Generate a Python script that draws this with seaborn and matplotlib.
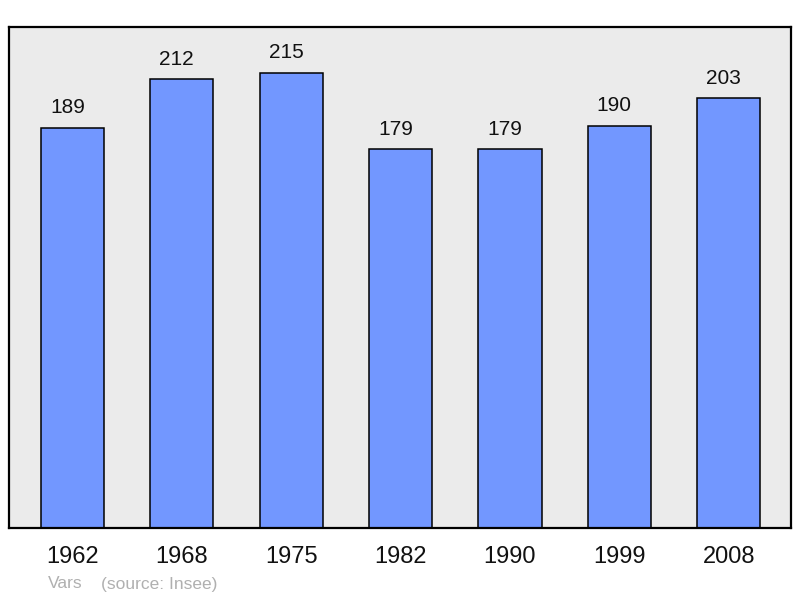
import matplotlib
matplotlib.use("Agg")
import matplotlib.pyplot as plt
import seaborn as sns
import pandas as pd

years = ["1962", "1968", "1975", "1982", "1990", "1999", "2008"]
population = [189, 212, 215, 179, 179, 190, 203]
commune = "Vars"
source = "(source: Insee)"

sns.set_theme(style="white")
plt.rcParams['font.family'] = ['Liberation Sans', 'DejaVu Sans']

df = pd.DataFrame({"year": years, "pop": population})

fig = plt.figure(figsize=(8, 5.98), dpi=100)
ax = fig.add_axes([0.01125, 0.117, 0.9775, 0.8378])
ax.set_facecolor("#ebebeb")

sns.barplot(data=df, x="year", y="pop", ax=ax, color="#7297ff", saturation=1,
            width=0.578, edgecolor="black", linewidth=1.1)

for i, v in enumerate(population):
    ax.annotate(str(v), (i, v), xytext=(-3.6, 10.4), textcoords="offset points",
                ha="center", va="baseline", fontsize=15, color="#111111")

ax.set_xlim(-0.58, 6.57)
ax.set_ylim(0, 236.6)
ax.set_yticks([])
ax.set_xlabel("")
ax.set_ylabel("")
ax.tick_params(axis="x", length=0, pad=13, labelsize=17, labelcolor="#111111")
for s in ax.spines.values():
    s.set_visible(True)
    s.set_color("black")
    s.set_linewidth(1.6)

fig.text(48/800, 1 - 584/598, commune, fontsize=12.5, color="#b0b0b0", va="center", ha="left")
fig.text(101/800, 1 - 584/598, source, fontsize=12.5, color="#b0b0b0", va="center", ha="left")

fig.savefig("out.png", dpi=100, facecolor="white")
